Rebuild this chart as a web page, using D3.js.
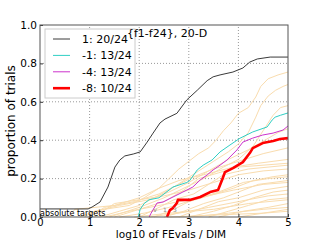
<!DOCTYPE html>
<html>
<head>
<meta charset="utf-8">
<script src="https://cdn.jsdelivr.net/npm/d3@7"></script>
<style>
  body { margin: 0; background: #fff; }
  svg text { font-family: "DejaVu Sans", sans-serif; }
</style>
</head>
<body>
<div id="chart"></div>
<script>
// ECDF of runtimes, bbob style

var xTicks = [0, 1, 2, 3, 4, 5];
var yTicks = [0, 0.2, 0.4, 0.6, 0.8, 1.0];

var titleText = "{f1-f24}, 20-D";
var legendLabels = ["1: 20/24", "-1: 13/24", "-4: 13/24", "-8: 10/24"];

// main curves: [log10 FEvals/DIM, proportion]
var target1 = [[0,0.042],[0.97,0.042],[1.05,0.052],[1.21,0.078],[1.37,0.156],[1.51,0.26],[1.61,0.297],
  [1.71,0.318],[1.88,0.328],[2.02,0.339],[2.16,0.39],[2.28,0.437],[2.42,0.49],[2.52,0.51],[2.76,0.54],
  [2.96,0.61],[3.17,0.66],[3.37,0.71],[3.49,0.73],[3.63,0.74],[3.89,0.755],[4.09,0.776],[4.23,0.807],
  [4.38,0.823],[4.64,0.833],[5,0.833]];
var targetM1 = [[1.98,0],[2.02,0.04],[2.1,0.07],[2.2,0.09],[2.4,0.10],[2.68,0.156],[2.96,0.18],[3.02,0.19],
  [3.17,0.245],[3.29,0.27],[3.47,0.297],[3.63,0.339],[3.83,0.375],[4.03,0.41],[4.29,0.443],[4.58,0.469],
  [4.68,0.505],[4.74,0.52],[4.85,0.53],[5,0.542]];
var targetM4 = [[2.2,0],[2.24,0.02],[2.36,0.073],[2.48,0.078],[2.68,0.104],[2.88,0.13],[3.08,0.156],[3.23,0.193],
  [3.37,0.219],[3.49,0.245],[3.63,0.27],[3.77,0.297],[3.97,0.349],[4.09,0.39],[4.29,0.411],[4.49,0.427],
  [4.70,0.437],[4.9,0.453],[5,0.474]];
var targetM8 = [[2.56,0],[2.62,0.036],[2.68,0.047],[2.76,0.073],[2.78,0.089],[3.02,0.089],[3.23,0.104],
  [3.43,0.13],[3.59,0.141],[3.67,0.193],[3.73,0.234],[3.89,0.255],[4.09,0.286],[4.23,0.333],[4.29,0.359],
  [4.49,0.385],[4.70,0.396],[4.84,0.406],[5,0.411]];

// single functions in the background
var others = [
  [[0.8,0],[1.0,0.02],[1.3,0.04],[1.8,0.06],[2.1,0.1],[2.4,0.15],[2.6,0.2],[2.8,0.25],[3.0,0.29],[3.2,0.33],[3.4,0.36],[3.55,0.40],[3.7,0.45],[3.85,0.49],[4.0,0.54],[4.2,0.57],[4.35,0.625],[4.45,0.68],[4.6,0.72],[4.8,0.74],[5,0.755]],
  [[1.2,0],[1.6,0.03],[2.0,0.06],[2.3,0.1],[2.6,0.14],[2.9,0.19],[3.2,0.24],[3.5,0.29],[3.8,0.34],[4.0,0.38],[4.2,0.44],[4.35,0.52],[4.45,0.58],[4.6,0.63],[4.75,0.66],[4.9,0.68],[5,0.69]],
  [[1.4,0],[2.0,0.05],[2.5,0.1],[2.9,0.15],[3.3,0.2],[3.7,0.26],[4.0,0.3],[4.3,0.37],[4.5,0.45],[4.7,0.53],[4.85,0.57],[5,0.58]],
  [[0.9,0],[1.1,0.03],[1.6,0.06],[2.2,0.09],[2.6,0.13],[3.0,0.18],[3.4,0.24],[3.8,0.3],[4.2,0.35],[4.6,0.41],[4.8,0.44],[5,0.46]],
  [[1.0,0],[1.3,0.05],[1.9,0.08],[2.4,0.12],[2.8,0.17],[3.1,0.21],[3.5,0.25],[4.0,0.29],[4.5,0.33],[5,0.36]],
  [[0.6,0],[0.7,0.04],[1.5,0.06],[2.0,0.1],[2.4,0.15],[2.8,0.19],[3.3,0.22],[3.9,0.26],[4.4,0.28],[5,0.30]],
  [[1.5,0],[2.0,0.04],[2.5,0.08],[2.9,0.14],[3.2,0.2],[3.6,0.23],[4.0,0.26],[5,0.28]],
  [[2.0,0],[2.4,0.05],[2.7,0.09],[3.1,0.12],[3.4,0.17],[3.7,0.22],[4.2,0.25],[5,0.27]],
  [[1.1,0],[1.5,0.07],[2.0,0.09],[2.5,0.11],[3.0,0.14],[3.5,0.18],[4.0,0.22],[4.5,0.24],[5,0.25]],
  [[2.3,0],[2.7,0.04],[3.0,0.08],[3.4,0.11],[3.9,0.15],[4.3,0.19],[4.7,0.21],[5,0.22]],
  [[1.6,0],[2.1,0.02],[2.6,0.05],[3.1,0.09],[3.6,0.13],[4.1,0.18],[4.6,0.2],[5,0.21]],
  [[2.5,0],[2.9,0.03],[3.3,0.07],[3.7,0.1],[4.0,0.13],[4.4,0.17],[5,0.19]],
  [[1.3,0],[1.8,0.03],[2.4,0.06],[2.8,0.08],[3.2,0.1],[3.9,0.14],[4.5,0.17],[5,0.18]],
  [[2.8,0],[3.2,0.04],[3.6,0.08],[4.0,0.1],[4.5,0.14],[5,0.16]],
  [[3.0,0],[3.5,0.03],[3.9,0.06],[4.3,0.1],[4.7,0.13],[5,0.14]],
  [[2.2,0],[2.8,0.02],[3.4,0.05],[4.0,0.08],[4.6,0.11],[5,0.12]],
  [[3.4,0],[3.8,0.03],[4.2,0.06],[4.6,0.09],[5,0.10]],
  [[1.9,0],[2.6,0.02],[3.5,0.04],[4.2,0.07],[5,0.09]],
  [[3.6,0],[4.1,0.03],[4.6,0.05],[5,0.07]],
  [[3.0,0],[3.8,0.02],[4.5,0.04],[5,0.05]],
  [[4.0,0],[4.5,0.02],[5,0.04]],
  [[2.6,0],[3.5,0.01],[4.5,0.02],[5,0.03]]
];

var markLabels = ["v", "1", "3"];
var markX = [2.32, 2.52, 2.72];

var width = 321, height = 241;
var margin = { top: 25, right: 33, bottom: 24, left: 40 };

var x = d3.scaleLinear().domain([0, 5]).range([margin.left, width - margin.right]);
var y = d3.scaleLinear().domain([0, 1]).range([height - margin.bottom, margin.top]);

var svg = d3.select("#chart").append("svg")
    .attr("width", width)
    .attr("height", height);

// grid
svg.append("g").selectAll("line")
    .data(xTicks.slice(1, -1))
  .enter().append("line")
    .attr("x1", d => x(d)).attr("x2", d => x(d))
    .attr("y1", y(0)).attr("y2", y(1))
    .attr("stroke", "#999").attr("stroke-dasharray", "1,2");
svg.append("g").selectAll("line")
    .data(yTicks.slice(1, -1))
  .enter().append("line")
    .attr("y1", d => y(d)).attr("y2", d => y(d))
    .attr("x1", x(0)).attr("x2", x(5))
    .attr("stroke", "#999").attr("stroke-dasharray", "1,2");

var line = d3.line()
    .x(d => x(d[0]))
    .y(d => y(d[1]));

svg.append("g").selectAll("path")
    .data(others)
  .enter().append("path")
    .attr("d", line)
    .attr("fill", "none")
    .attr("stroke", "#f9dcae")
    .attr("stroke-width", 1);

var series = [
  { data: target1, color: "#3a3a3a", w: 1 },
  { data: targetM1, color: "#2fcfc4", w: 1 },
  { data: targetM4, color: "#cc33cc", w: 1 },
  { data: targetM8, color: "#ff0000", w: 2.6 }
];

svg.append("g").selectAll("path")
    .data(series)
  .enter().append("path")
    .attr("d", d => line(d.data))
    .attr("fill", "none")
    .attr("stroke", d => d.color)
    .attr("stroke-width", d => d.w)
    .attr("stroke-linejoin", "round");

// tiny function markers near the bottom
svg.append("g").selectAll("text")
    .data(markLabels)
  .enter().append("text")
    .attr("x", (d, i) => x(markX[i]))
    .attr("y", y(0) - 5)
    .attr("font-size", 6)
    .attr("fill", "#888")
    .attr("text-anchor", "middle")
    .text(d => d);

// axes
var xAxis = d3.axisBottom(x).tickValues(xTicks).tickFormat(d3.format("d"))
    .tickSizeInner(-3).tickSizeOuter(0).tickPadding(2);
var gx = svg.append("g").attr("transform", "translate(0," + y(0) + ")").call(xAxis);
gx.select(".domain").remove();
gx.selectAll("text").attr("font-size", 10).attr("fill", "#000").attr("font-family", "DejaVu Sans");
gx.selectAll("line").attr("stroke", "#333");

var yAxis = d3.axisLeft(y).tickValues(yTicks).tickFormat(d3.format(".1f"))
    .tickSizeInner(-3).tickSizeOuter(0).tickPadding(3);
var gy = svg.append("g").attr("transform", "translate(" + x(0) + ",0)").call(yAxis);
gy.select(".domain").remove();
gy.selectAll("text").attr("font-size", 10.5).attr("fill", "#000").attr("font-family", "DejaVu Sans");
gy.selectAll("line").attr("stroke", "#333");

// frame
svg.append("rect")
    .attr("x", x(0)).attr("y", y(1))
    .attr("width", x(5) - x(0)).attr("height", y(0) - y(1))
    .attr("fill", "none").attr("stroke", "#555").attr("stroke-width", 1);

// legend
var lg = svg.append("g").attr("transform", "translate(45,29)");
lg.append("rect")
    .attr("width", 90).attr("height", 69)
    .attr("fill", "#fff").attr("stroke", "#ccc");
var rows = lg.selectAll(".row")
    .data(series)
  .enter().append("g")
    .attr("class", "row")
    .attr("transform", (d, i) => "translate(0," + (10 + i * 16.4) + ")");
rows.append("line")
    .attr("x1", 8).attr("x2", 25)
    .attr("stroke", d => d.color)
    .attr("stroke-width", d => d.w);
rows.append("text")
    .attr("x", 37).attr("y", 4)
    .attr("font-size", 11)
    .text((d, i) => legendLabels[i]);

svg.append("text")
    .attr("x", 127).attr("y", 37)
    .attr("font-size", 11)
    .text(titleText);

svg.append("text")
    .attr("x", 40).attr("y", 215.5)
    .attr("font-size", 8)
    .text("absolute targets");

svg.append("text")
    .attr("x", 171).attr("y", 238.3)
    .attr("text-anchor", "middle")
    .attr("font-size", 10.5)
    .text("log10 of FEvals / DIM");

svg.append("text")
    .attr("transform", "translate(15," + ((y(0) + y(1)) / 2) + ") rotate(-90)")
    .attr("text-anchor", "middle")
    .attr("font-size", 12)
    .text("proportion of trials");
</script>
</body>
</html>
